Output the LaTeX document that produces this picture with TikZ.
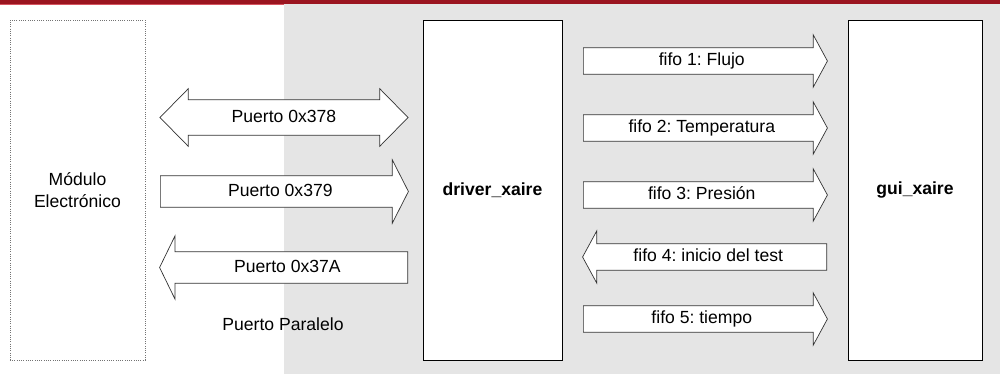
\documentclass[tikz,border=0pt]{standalone}
\usepackage{fontspec}
\usepackage{xcolor}
\usepackage{tikz}
\usetikzlibrary{shapes.arrows}
\setmainfont{Liberation Sans}
\frenchspacing

\definecolor{barred}{RGB}{155,21,32}
\definecolor{barpink}{RGB}{214,84,96}
\definecolor{panelgray}{RGB}{229,229,229}

\begin{document}
\begin{tikzpicture}[x=0.025cm, y=-0.025cm,
    font=\fontsize{12.5}{15.5}\selectfont,
    block/.style={draw=black, line width=0.6pt, fill=white, minimum height=8.5cm, align=center},
    fifo/.style={single arrow, draw=black!80, line width=0.5pt, fill=white,
        text height=9pt, text depth=2.5pt, inner xsep=1pt, inner ysep=3.45pt,
        single arrow head extend=9.2pt, single arrow tip angle=123,
        minimum height=6.1cm, minimum width=1pt},
    port/.style={single arrow, draw=black!80, line width=0.5pt, fill=white,
        text height=9pt, text depth=2.5pt, inner xsep=1pt, inner ysep=5.25pt,
        single arrow head extend=11.3pt, single arrow tip angle=126,
        minimum height=6.2cm, minimum width=1pt}]

    \useasboundingbox (0,0) rectangle (1000,374);

    % Red bar and the grey panel
    \fill[barpink] (0,0) rectangle (284,5);
    \fill[barred] (0,0) rectangle (1000,4);
    \fill[panelgray] (284,4) rectangle (1000,374);

    % The three blocks
    \node[block, draw=black!55, densely dotted, minimum width=3.375cm] (modulo) at (77.5,190)
        {Módulo\\Electrónico};
    \node[block, minimum width=3.475cm, font=\fontsize{12.5}{15}\selectfont\bfseries] (driver) at (492.5,190)
        {driver\_xaire};
    \node[block, minimum width=3.35cm, font=\fontsize{12.5}{15}\selectfont\bfseries] (gui) at (915,190)
        {gui\_xaire};

    % Parallel port
    \node[double arrow, draw=black!80, line width=0.5pt, fill=white,
        text height=9pt, text depth=2.5pt, inner xsep=1pt, inner ysep=6.65pt,
        double arrow head extend=7.8pt, double arrow tip angle=91,
        minimum height=6.2cm, minimum width=1pt] (p378) at (284,117.5) {Puerto 0x378};
    \node[port, anchor=tail] (p379) at (160,191.5) {Puerto 0x379};
    \node[port, shape border rotate=180, single arrow tip angle=128, anchor=tail] (p37a) at (408,267.5)
        {Puerto 0x37A};
    \node (paralelo) at (283,324) {Puerto Paralelo};

    % Fifos between driver and gui
    \node[fifo, anchor=tail] (fifo1) at (583,61) {fifo 1: Flujo};
    \node[fifo, anchor=tail] (fifo2) at (583,128) {fifo 2: Temperatura};
    \node[fifo, anchor=tail] (fifo3) at (583,195) {fifo 3: Presión};
    \node[fifo, shape border rotate=180, anchor=tail] (fifo4) at (827,257) {fifo 4: inicio del test};
    \node[fifo, anchor=tail] (fifo5) at (583,319) {fifo 5: tiempo};

\end{tikzpicture}
\end{document}
